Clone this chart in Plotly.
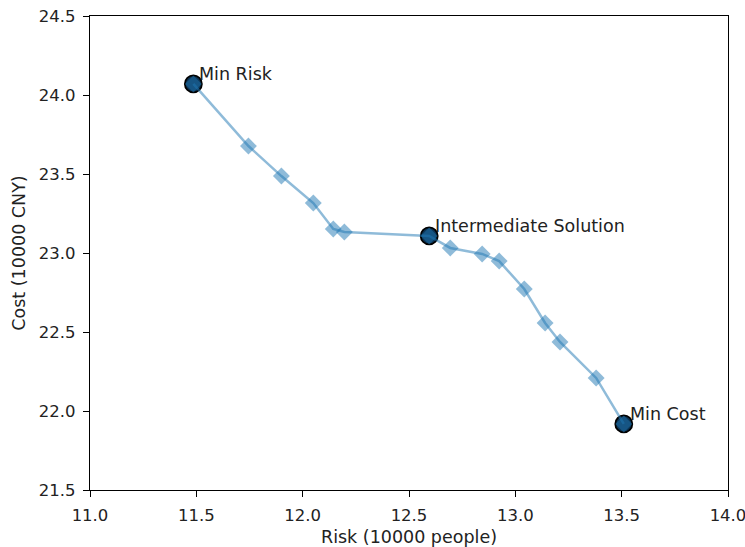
import plotly.graph_objects as go

risk = [11.486, 11.745, 11.90, 12.05, 12.144, 12.196, 12.595, 12.694, 12.844, 12.924, 13.042, 13.14, 13.21, 13.38, 13.51]
cost = [24.07, 23.677, 23.487, 23.316, 23.152, 23.133, 23.108, 23.032, 22.994, 22.949, 22.772, 22.557, 22.437, 22.209, 21.918]

special_names = ["Min Risk", "Intermediate Solution", "Min Cost"]
special_risk = [11.486, 12.595, 13.51]
special_cost = [24.07, 23.108, 21.918]

x_ticks = [11.0, 11.5, 12.0, 12.5, 13.0, 13.5, 14.0]
y_ticks = [21.5, 22.0, 22.5, 23.0, 23.5, 24.0, 24.5]

FONT = "DejaVu Sans"
TXT = "#222"
fig = go.Figure()
fig.add_trace(go.Scatter(
    x=special_risk, y=special_cost, mode="markers",
    marker=dict(symbol="circle", size=17, color="#0c3354", line=dict(color="black", width=1.8)),
    showlegend=False))
fig.add_trace(go.Scatter(
    x=risk, y=cost, mode="lines+markers",
    line=dict(color="rgba(31,119,180,0.5)", width=2.5),
    marker=dict(symbol="diamond", size=13, color="rgba(31,119,180,0.5)", line=dict(width=0)),
    showlegend=False))

for n, xv, yv in zip(special_names, special_risk, special_cost):
    fig.add_annotation(x=xv, y=yv, text=n, showarrow=False, xanchor="left", yanchor="bottom",
                       xshift=4, yshift=-2, font=dict(family=FONT, size=17.5, color=TXT))

axis_common = dict(showgrid=False, zeroline=False, showline=True, linecolor="black", linewidth=1.2,
                   mirror=True, ticks="outside", ticklen=6, tickwidth=1.2, tickcolor="black",
                   automargin=False, ticklabelstandoff=4, ticklabeloverflow="allow",
                   tickfont=dict(family=FONT, size=16.5, color=TXT))
fig.update_xaxes(range=[11.0, 14.0], tickvals=x_ticks, ticktext=[f"{v:.1f}" for v in x_ticks],
                 title=dict(text="Risk (10000 people)", font=dict(family=FONT, size=17.5, color=TXT), standoff=6),
                 **axis_common)
fig.update_yaxes(range=[21.5, 24.5], tickvals=y_ticks, ticktext=[f"{v:.1f}" for v in y_ticks],
                 title=dict(text="Cost (10000 CNY)", font=dict(family=FONT, size=17.5, color=TXT), standoff=8),
                 **axis_common)
fig.update_layout(width=745, height=547, margin=dict(l=90, r=17, t=16, b=57),
                  plot_bgcolor="white", paper_bgcolor="white")
fig.write_html("out.html", config={"displayModeBar": False},
               post_script="document.body.style.margin='0';document.body.style.padding='0';")
